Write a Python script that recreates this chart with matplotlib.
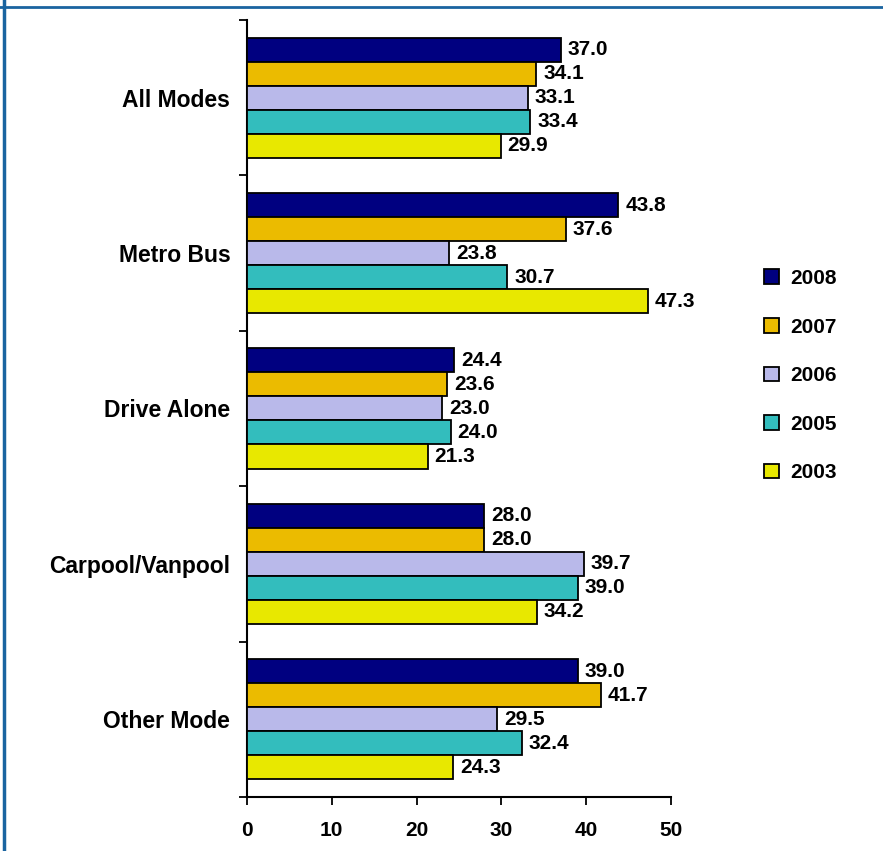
import matplotlib
matplotlib.use("Agg")
import matplotlib.pyplot as plt
from matplotlib.patches import Patch
from matplotlib.lines import Line2D
import numpy as np

plt.rcParams["font.family"] = ["Liberation Sans", "DejaVu Sans"]
plt.rcParams["font.weight"] = "bold"

categories = ["All Modes", "Metro Bus", "Drive Alone", "Carpool/Vanpool", "Other Mode"]
years = ["2008", "2007", "2006", "2005", "2003"]
v2008 = [37.0, 43.8, 24.4, 28.0, 39.0]
v2007 = [34.1, 37.6, 23.6, 28.0, 41.7]
v2006 = [33.1, 23.8, 23.0, 39.7, 29.5]
v2005 = [33.4, 30.7, 24.0, 39.0, 32.4]
v2003 = [29.9, 47.3, 21.3, 34.2, 24.3]
series = [v2008, v2007, v2006, v2005, v2003]
colors = ["#000080", "#EBBB00", "#B9B9EA", "#33BDBD", "#E8E800"]

fig = plt.figure(figsize=(8.83, 8.51), dpi=100)
ax = fig.add_axes([0.2797, 0.0635, 0.4802, 0.913])

y = np.arange(len(categories))
h = 0.1545
for i, (vals, col) in enumerate(zip(series, colors)):
    pos = y - 2 * h + i * h
    bars = ax.barh(pos, vals, height=h, color=col, edgecolor="black", linewidth=1.3, zorder=3)
    for b, v in zip(bars, vals):
        ax.annotate(f"{v:.1f}", (b.get_width(), b.get_y() + h / 2),
                    xytext=(5, 0), textcoords="offset points", ha="left", va="center",
                    fontsize=15, fontweight="bold", zorder=4,
                    bbox=dict(facecolor="white", edgecolor="none", pad=0.5))

ax.set_xlim(0, 50)
ax.set_ylim(len(categories) - 0.5, -0.5)
ax.set_xticks([0, 10, 20, 30, 40, 50])
ax.tick_params(axis="x", labelsize=15, length=6, width=1.3, direction="out", pad=11)
ax.set_yticks(np.arange(-0.5, len(categories), 1.0))
ax.set_yticklabels([])
ax.tick_params(axis="y", which="major", length=6, width=1.3, direction="out")
ax.set_yticks(y, minor=True)
ax.set_yticklabels(categories, minor=True, fontsize=16.5, fontweight="bold")
ax.tick_params(axis="y", which="minor", length=0, pad=12)
for lab in ax.get_xticklabels():
    lab.set_fontweight("bold")
ax.spines["top"].set_visible(False)
ax.spines["right"].set_visible(False)
ax.spines["left"].set_linewidth(1.5)
ax.spines["bottom"].set_linewidth(1.5)

handles = [Patch(facecolor=c, edgecolor="black", linewidth=1.3) for c in colors]
fig.legend(handles, years, loc="upper left", bbox_to_anchor=(0.844, 0.706),
           frameon=False, handlelength=0.7, handleheight=0.7,
           handletextpad=0.55, labelspacing=1.42, prop={"weight": "bold", "size": 15})

border = "#1A64A0"
fig.add_artist(Line2D([0.005, 0.005], [0, 1], transform=fig.transFigure, color=border, lw=2.5))
fig.add_artist(Line2D([0, 1], [0.9915, 0.9915], transform=fig.transFigure, color=border, lw=2))

fig.savefig("out.png", dpi=100)
